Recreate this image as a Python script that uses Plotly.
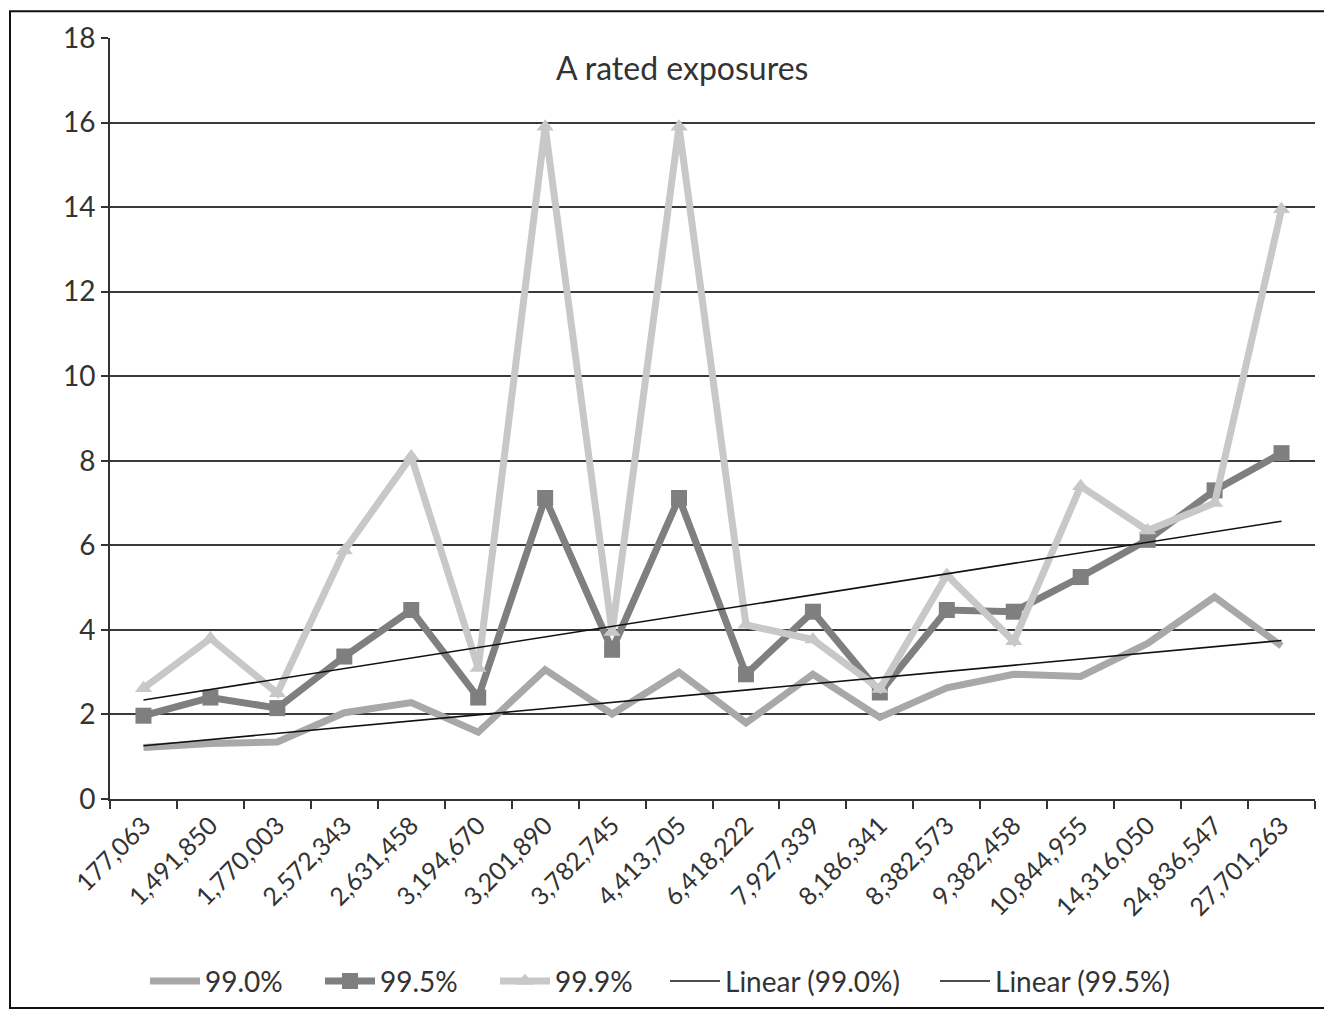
import numpy as np
import plotly.graph_objects as go

categories = ["177,063", "1,491,850", "1,770,003", "2,572,343", "2,631,458", "3,194,670",
              "3,201,890", "3,782,745", "4,413,705", "6,418,222", "7,927,339", "8,186,341",
              "8,382,573", "9,382,458", "10,844,955", "14,316,050", "24,836,547", "27,701,263"]
s990 = [1.22, 1.31, 1.35, 2.04, 2.28, 1.58, 3.06, 2.01, 3.0, 1.8, 2.95, 1.93, 2.63, 2.95, 2.9, 3.68, 4.78, 3.62]
s995 = [1.97, 2.4, 2.15, 3.37, 4.47, 2.4, 7.12, 3.53, 7.12, 2.95, 4.43, 2.52, 4.47, 4.43, 5.25, 6.13, 7.3, 8.18]
s999 = [2.62, 3.8, 2.5, 5.88, 8.1, 3.1, 15.9, 3.95, 15.9, 4.12, 3.77, 2.6, 5.3, 3.73, 7.4, 6.35, 7.0, 13.95]

idx = np.arange(1, len(categories) + 1)
fit990 = np.polyval(np.polyfit(idx, s990, 1), idx)
fit995 = np.polyval(np.polyfit(idx, s995, 1), idx)

FONT = "Lato"
TXT = "#333333"
fig = go.Figure()
fig.add_trace(go.Scatter(x=categories, y=s990, name="99.0%", mode="lines",
                         line=dict(color="#a8a8a8", width=7), legend="legend"))
fig.add_trace(go.Scatter(x=categories, y=s995, name="99.5%", mode="lines+markers",
                         line=dict(color="#7f7f7f", width=7),
                         marker=dict(symbol="square", size=16, color="#7f7f7f"), legend="legend"))
fig.add_trace(go.Scatter(x=categories, y=s999, name="99.9%", mode="lines+markers",
                         line=dict(color="#c8c8c8", width=7),
                         marker=dict(symbol="triangle-up", size=15, color="#c8c8c8"), legend="legend"))
fig.add_trace(go.Scatter(x=categories, y=fit990, name="Linear (99.0%)", mode="lines",
                         line=dict(color="#111111", width=1.6), legend="legend2"))
fig.add_trace(go.Scatter(x=categories, y=fit995, name="Linear (99.5%)", mode="lines",
                         line=dict(color="#111111", width=1.6), legend="legend2"))

# page has an 8px body margin; figure coordinates = page coordinates - 8
O = 8
W, H = 1332 - O, 1018 - O
L, T = 110 - O, 36 - O
PR, PB = 1315 - O, 804 - O
R, B = W - PR, H - PB
pw, ph = PR - L, PB - T

def px(xp):
    return (xp - O - L) / pw

def py(yp):
    return (PB - (yp - O)) / ph

legfont = dict(size=28, family=FONT, color=TXT)
fig.update_layout(
    width=W, height=H,
    margin=dict(l=L, r=R, t=T, b=B),
    paper_bgcolor="white", plot_bgcolor="white",
    font=dict(family=FONT, color=TXT, size=24),
    showlegend=True,
    legend=dict(orientation="h", x=px(145), xanchor="left", y=py(988), yanchor="middle",
                font=legfont, itemwidth=50, entrywidth=110, entrywidthmode="pixels",
                bgcolor="rgba(0,0,0,0)"),
    legend2=dict(orientation="h", x=px(665), xanchor="left", y=py(988), yanchor="middle",
                 font=legfont, itemwidth=50, entrywidth=205, entrywidthmode="pixels",
                 bgcolor="rgba(0,0,0,0)"),
    annotations=[dict(text="A rated exposures", xref="paper", yref="paper",
                      x=px(682), y=py(66), xanchor="center", yanchor="middle",
                      showarrow=False, font=dict(size=32, family=FONT, color=TXT))],
    shapes=[dict(type="rect", xref="paper", yref="paper",
                 x0=px(10), x1=px(1329), y0=py(1015), y1=py(9),
                 line=dict(color="#111111", width=2), fillcolor="rgba(0,0,0,0)", layer="below")],
)
fig.update_xaxes(type="category", tickson="boundaries", ticks="outside", ticklen=8,
                 tickcolor=TXT, tickwidth=2, showline=True, linecolor=TXT,
                 linewidth=2, showgrid=False, tickangle=-45,
                 tickfont=dict(size=25, family=FONT, color=TXT),
                 range=[-0.5, len(categories) - 0.5])
fig.update_yaxes(range=[0, 18], dtick=2, tick0=0, ticks="outside", ticklen=7,
                 tickcolor=TXT, tickwidth=2, showline=True, linecolor=TXT,
                 linewidth=2, showgrid=True, gridcolor="#3a3a3a", gridwidth=2,
                 zeroline=False, tickfont=dict(size=28, family=FONT, color=TXT))

fig.write_html("out.html")
